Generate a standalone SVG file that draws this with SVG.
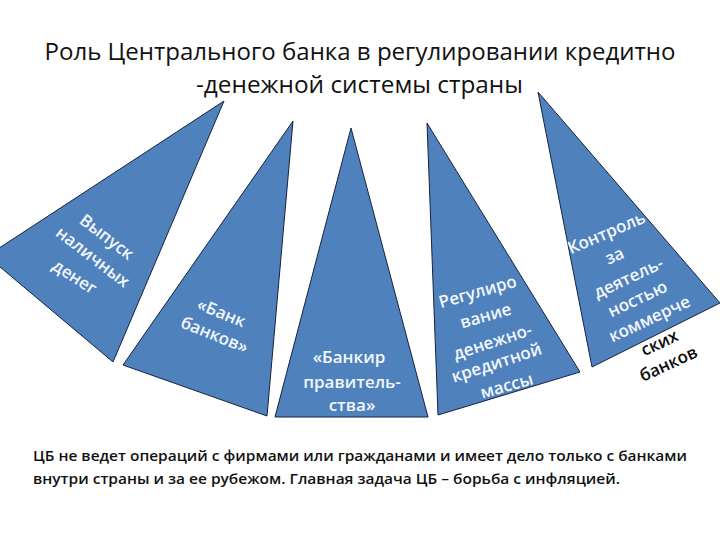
<svg xmlns="http://www.w3.org/2000/svg" width="720" height="540" viewBox="0 0 720 540">
<style>
text{font-family:"Open Sans","Noto Sans","Liberation Sans",sans-serif}
.tri{fill:#4f81bd;stroke:#16233f;stroke-width:1}
.t{fill:#f2f7fd;font-size:17px;font-weight:600;text-anchor:middle}
.k{fill:#0c0c0c;font-size:17px;font-weight:600;text-anchor:middle}
.h{fill:#111;font-size:24px;text-anchor:middle}
.b{fill:#111;font-size:14.5px;font-weight:600}
</style>
<rect width="720" height="540" fill="#fff"/>
<g id="title">
<text class="h" x="360" y="60" textLength="631" lengthAdjust="spacingAndGlyphs">Роль Центрального банка в регулировании кредитно</text>
<text class="h" x="359.5" y="93" textLength="327" lengthAdjust="spacingAndGlyphs">-денежной системы страны</text>
</g>
<g id="node1">
<polygon class="tri" points="224,101 -13,256 113,362"/>
<text class="t" transform="translate(106,238) rotate(37.5)" y="4.5">Выпуск</text>
<text class="t" transform="translate(92,258) rotate(37.5)" y="4.5">наличных</text>
<text class="t" transform="translate(74,278) rotate(33)" y="4.5">денег</text>
</g>
<g id="node2">
<polygon class="tri" points="293,121 123,365 267,416"/>
<text class="t" transform="translate(221,314) rotate(22)" y="4.5">«Банк</text>
<text class="t" transform="translate(214,336) rotate(22)" y="4.5">банков»</text>
</g>
<g id="node3">
<polygon class="tri" points="351,128 275,417 428,417"/>
<text class="t" x="349" y="363">«Банкир</text>
<text class="t" x="352" y="388">правитель-</text>
<text class="t" x="352" y="411">ства»</text>
</g>
<g id="node4">
<polygon class="tri" points="427,123 438,415 580,372"/>
<text class="t" transform="translate(478,293) rotate(-16)" y="4.5">Регулиро</text>
<text class="t" transform="translate(486,317) rotate(-16)" y="4.5">вание</text>
<text class="t" transform="translate(493,343) rotate(-18)" y="4.5">денежно-</text>
<text class="t" transform="translate(497,364) rotate(-18)" y="4.5">кредитной</text>
<text class="t" transform="translate(507,387) rotate(-16)" y="4.5">массы</text>
</g>
<g id="node5">
<text class="k" transform="translate(660,344) rotate(-25)" y="4.5">ских</text>
<text class="k" transform="translate(669,365) rotate(-25)" y="4.5">банков</text>
<polygon class="tri" points="538,92 592,367 720,303"/>
<text class="t" transform="translate(607,234) rotate(-23)" y="4.5">Контроль</text>
<text class="t" transform="translate(615,257) rotate(-23)" y="4.5">за</text>
<text class="t" transform="translate(629,279) rotate(-25)" y="4.5">деятель-</text>
<text class="t" transform="translate(638,300) rotate(-25)" y="4.5">ностью</text>
<text class="t" transform="translate(650,320) rotate(-25)" y="4.5">коммерче</text>
</g>
<g id="caption">
<text class="b" x="33" y="461" textLength="654" lengthAdjust="spacingAndGlyphs">ЦБ не ведет операций с фирмами или гражданами и имеет дело только с банками</text>
<text class="b" x="33" y="484" textLength="587" lengthAdjust="spacingAndGlyphs">внутри страны и за ее рубежом. Главная задача ЦБ – борьба с инфляцией.</text>
</g>
</svg>
